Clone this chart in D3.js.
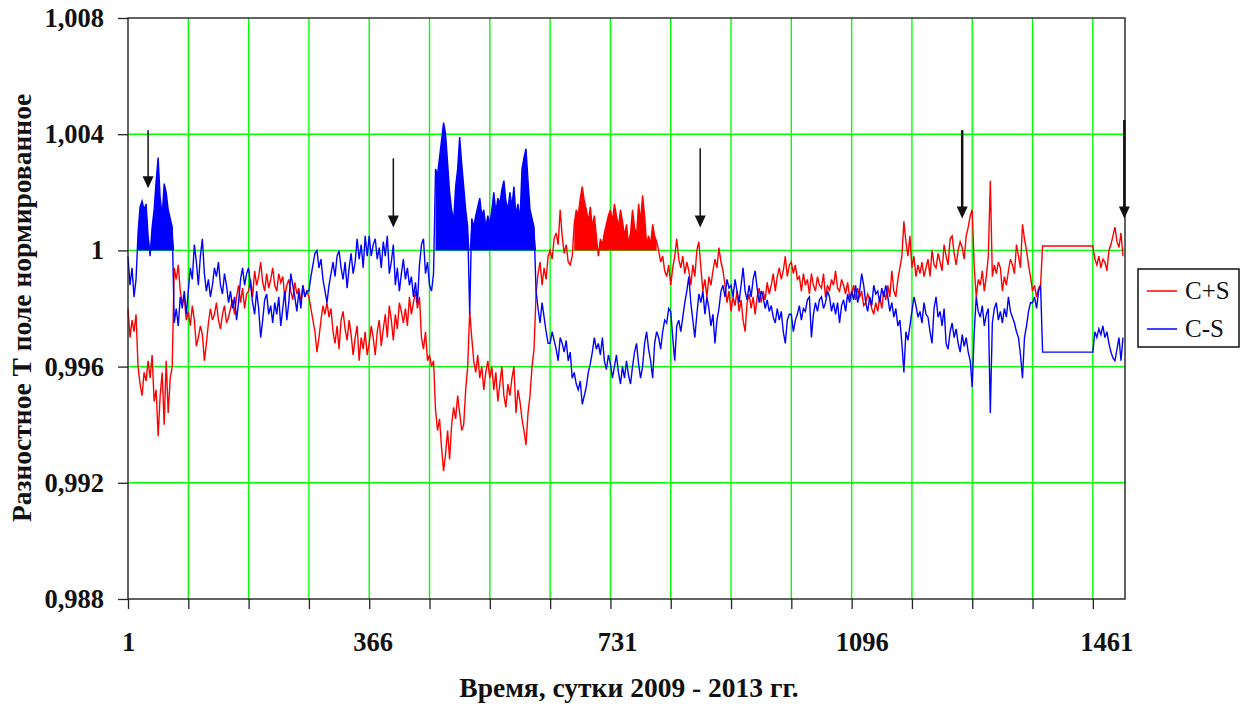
<!DOCTYPE html>
<html>
<head>
<meta charset="utf-8">
<script src="https://cdn.jsdelivr.net/npm/d3@7"></script>
<style>
  body { margin: 0; background: #fff; }
  svg { display: block; }
  svg text { font-family: "Liberation Serif", "Times New Roman", serif; }
</style>
</head>
<body>
<svg id="chart" width="1241" height="704"></svg>
<script>
// Отклонение от 1 в единицах 1e-4, отсчёты через 3 суток начиная с 1-х суток
const dayStep = 3;

// C+S, по кварталам (90 суток = 30 отсчётов)
const cPlusS = [
  -20, -30, -24, -28, -22, -40, -46, -50, -42, -45, -38, -44, -36, -52, -48, -64, -50, -42, -60, -38, -56, -44, -40, -6, -10, -5, -14, -18, -16, -24,
  -21, -26, -19, -24, -33, -30, -26, -29, -38, -32, -25, -20, -24, -22, -18, -24, -27, -22, -19, -25, -23, -20, -17, -22, -16, -12, -18, -13, -20, -15,
  -14, -10, -16, -7, -12, -9, -4, -11, -14, -8, -13, -10, -6, -12, -14, -8, -11, -9, -16, -12, -10, -14, -17, -11, -15, -13, -18, -12, -16, -14,
  -16, -20, -24, -28, -35, -30, -24, -19, -22, -18, -23, -20, -28, -32, -26, -34, -24, -21, -27, -31, -24, -29, -36, -30, -26, -38, -30, -34, -28, -36,
  -32, -26, -30, -36, -28, -24, -33, -27, -22, -30, -19, -24, -31, -22, -27, -18, -21, -25, -20, -26, -16, -22, -18, -14, -20, -16, -30, -34, -28, -38,
  -36, -40, -38, -55, -62, -58, -68, -76, -70, -62, -72, -60, -54, -58, -50, -56, -62, -60, -48, -40, -21, -30, -38, -42, -36, -44, -40, -48, -42, -38,
  -44, -40, -48, -42, -52, -46, -40, -50, -54, -46, -50, -44, -40, -56, -48, -52, -58, -62, -67, -56, -50, -40, -34, -15, -8, -4, -12, -6, -10, -2,
  0, -3, 4, 6, 2, 14, 5, -1, 2, -4, -5, -2, 9, 14, 12, 18, 22, 17, 14, 10, 15, 8, 12, 5, -2, 4, 2, 6, 9, 12,
  14, 10, 16, 12, 8, 14, 10, 5, 9, 2, 6, 14, 8, 5, 16, 10, 19, 12, 2, 5, 2, 9, 5, 3, 0, -4, -2, -7, -9, -5,
  -12, -6, -2, 4, -3, -6, -2, -8, -4, -7, -12, -5, -9, 0, 3, -6, -14, -10, -16, -9, -12, -7, -3, -6, 1, -4, -7, -12, -18, -14,
  -21, -16, -19, -14, -21, -17, -24, -28, -18, -15, -20, -16, -22, -16, -13, -18, -14, -17, -11, -15, -12, -8, -14, -9, -6, -10, -7, -2, -9, -5,
  -4, -8, -5, -10, -9, -14, -8, -12, -10, -15, -8, -12, -14, -9, -12, -13, -8, -16, -12, -14, -10, -12, -7, -13, -14, -10, -12, -15, -11, -16,
  -15, -12, -17, -13, -16, -14, -19, -18, -15, -17, -20, -22, -18, -21, -16, -20, -14, -17, -12, -16, -7, -14, -16, -10, -6, -2, 10, 3, -2, 5,
  -6, -2, -9, -5, -8, -4, -9, -6, -3, -9, 0, -5, -6, -1, -4, -7, 2, -2, -5, 4, 5, -1, -5, 0, 3, 1, -3, 5, 8, 12,
  14, -6, -16, -10, -12, -7, -14, -9, -2, 24, -9, -5, -8, -4, -6, -14, -9, -12, -7, -3, -5, -8, 2, -2, -6, 9, 4, 0, -5, -9,
  -14, -12, -16, -13, -12, 1.5, 1.5, 1.5, 1.5, 1.5, 1.5, 1.5, 1.5, 1.5, 1.5, 1.5, 1.5, 1.5, 1.5, 1.5, 1.5, 1.5, 1.5, 1.5, 1.5, 1.5, 1.5, 1.5, 1.5, 1.5,
  1.5, -3, -5, -2, -6, -3, -4, -7, 0, 2, 5, 8, 3, 1, 6, -2
];

// C-S
const cMinusS = [
  -2, -12, -6, -16, -10, 6, 15, 17, 14, 16, 5, -2, 8, 14, 24, 32, 18, 12, 23, 20, 14, 11, 8, -25, -20, -26, -16, -20, -14, -22,
  -14, -6, -10, 2, -4, -12, -2, 4, -8, -14, -10, -16, -12, -6, -9, -4, -12, -15, -8, -12, -18, -14, -20, -16, -24, -18, -10, -6, -12, -8,
  -6, -12, -18, -22, -14, -20, -30, -24, -17, -15, -22, -19, -25, -18, -22, -16, -26, -20, -14, -24, -18, -8, -12, -16, -21, -14, -20, -12, -16, -14,
  -14, -9, -5, -1, 0, -6, -3, -10, -14, -18, -12, -8, -4, -9, -2, 0, -6, -10, -4, -13, -6, -1, -8, -4, 4, -3, 2, -6, 5, -2,
  5, -2, 2, 4, -3, 1, -6, 3, -2, 5, -8, -4, 2, -12, -6, -14, -8, -3, -10, -6, -12, -9, -16, -11, -18, -5, 2, 4, -8, -4,
  -12, -14, -8, 28, 26, 32, 38, 44, 40, 30, 20, 14, 10, 22, 28, 39, 30, 22, 14, 8, -22, 11, 8, 12, 15, 18, 12, 14, 8, 12,
  9, 14, 20, 13, 18, 16, 21, 24, 17, 14, 20, 15, 22, 12, 16, 10, 28, 32, 35, 24, 14, 11, 8, -14, -20, -25, -18, -23, -28, -32,
  -32, -28, -31, -34, -38, -30, -32, -35, -31, -38, -35, -44, -42, -46, -48, -45, -53, -50, -47, -42, -39, -35, -30, -34, -32, -36, -30, -38, -41, -36,
  -39, -44, -40, -36, -42, -46, -40, -44, -38, -43, -46, -40, -35, -32, -39, -44, -40, -32, -28, -34, -38, -44, -32, -28, -30, -34, -28, -24, -25, -20,
  -21, -30, -38, -26, -24, -28, -23, -18, -14, -9, -18, -24, -30, -22, -15, -18, -14, -22, -16, -20, -26, -22, -32, -24, -20, -14, -12, -16, -10, -13,
  -12, -16, -10, -14, -18, -12, -6, -14, -17, -12, -16, -10, -7, -13, -18, -14, -16, -20, -17, -21, -19, -23, -25, -20, -24, -21, -28, -32, -24, -22,
  -22, -28, -24, -22, -19, -24, -20, -21, -17, -16, -30, -22, -18, -21, -17, -16, -20, -18, -14, -16, -21, -18, -22, -18, -25, -19, -17, -21, -15, -18,
  -14, -17, -12, -18, -14, -8, -12, -18, -21, -16, -19, -12, -15, -14, -18, -13, -16, -12, -16, -21, -18, -23, -20, -26, -24, -32, -42, -28, -31, -26,
  -21, -16, -19, -23, -21, -25, -18, -22, -23, -28, -32, -20, -16, -23, -21, -26, -20, -32, -34, -28, -25, -30, -27, -32, -35, -29, -33, -30, -35, -38,
  -47, -28, -16, -21, -23, -19, -26, -22, -20, -56, -25, -20, -18, -24, -21, -25, -20, -23, -16, -21, -23, -25, -28, -30, -36, -44, -30, -26, -21, -18,
  -18, -16, -20, -14, -12, -35, -35, -35, -35, -35, -35, -35, -35, -35, -35, -35, -35, -35, -35, -35, -35, -35, -35, -35, -35, -35, -35, -35, -35, -35,
  -35, -28, -30, -27, -29, -26, -30, -28, -32, -35, -37, -38, -34, -30, -38, -30
];

// залитые участки (сутки)
const blueFills = [[14, 70], [458, 610]];
const redFills = [[666, 790]];

const yTicks = [0.988, 0.992, 0.996, 1, 1.004, 1.008];
const yTickLabels = ['0,988', '0,992', '0,996', '1', '1,004', '1,008'];
const gridDays = [1, 91, 181, 271, 361, 451, 541, 631, 721, 811, 901, 991, 1081, 1171, 1261, 1351, 1441];
const xLabelDays = [1, 366, 731, 1096, 1461];

// стрелки: сутки, от значения, до значения
const arrows = [
  { day: 31, from: 1.00414, to: 1.00214, w: 1.5 },
  { day: 397, from: 1.00317, to: 1.00079, w: 1.5 },
  { day: 855, from: 1.00352, to: 1.00079, w: 1.5 },
  { day: 1246, from: 1.00414, to: 1.0011, w: 2.5 },
  { day: 1488, from: 1.00449, to: 1.0011, w: 2.5 }
];

const series = [
  { name: 'C+S', color: '#ff0000', dev: cPlusS, fills: redFills },
  { name: 'C-S', color: '#0000ff', dev: cMinusS, fills: blueFills }
];

const L = 128, R = 1125, T = 18, B = 599;
const x = d3.scaleLinear().domain([1, 1489]).range([L, R]);
const y = d3.scaleLinear().domain([0.988, 1.008]).range([B, T]);

const svg = d3.select('#chart');

// сетка
const grid = svg.append('g').attr('stroke', '#00ff00').attr('stroke-width', 1.4);
grid.selectAll('.hg').data(yTicks.filter(d => d > 0.988 && d < 1.008)).join('line')
  .attr('x1', L).attr('x2', R).attr('y1', d => y(d)).attr('y2', d => y(d));
grid.selectAll('.vg').data(gridDays.slice(1)).join('line')
  .attr('x1', d => x(d)).attr('x2', d => x(d)).attr('y1', T).attr('y2', B);

// данные
series.forEach(s => {
  const pts = s.dev.map((v, i) => ({ day: 1 + i * dayStep, v: 1 + v * 1e-4 }));
  s.fills.forEach(([a, b]) => {
    const seg = pts.filter(p => p.day >= a && p.day <= b);
    svg.append('path').datum(seg)
      .attr('fill', s.color)
      .attr('d', d3.area().x(p => x(p.day)).y0(y(1)).y1(p => y(Math.max(p.v, 1))));
  });
  svg.append('path').datum(pts)
    .attr('fill', 'none')
    .attr('stroke', s.color)
    .attr('stroke-width', 1.4)
    .attr('stroke-linejoin', 'miter')
    .attr('d', d3.line().x(p => x(p.day)).y(p => y(p.v)));
});

// оси
const yAxis = svg.append('g').attr('transform', `translate(${L},0)`)
  .call(d3.axisLeft(y).tickValues(yTicks).tickFormat((d, i) => yTickLabels[i]).tickSize(10).tickPadding(14));
const xTicks = svg.append('g').attr('transform', `translate(0,${B})`)
  .call(d3.axisBottom(x).tickValues(gridDays).tickFormat('').tickSize(10));
const xLabels = svg.append('g').attr('transform', `translate(0,${B})`)
  .call(d3.axisBottom(x).tickValues(xLabelDays).tickFormat(d3.format('d')).tickSize(0).tickPadding(33));
[yAxis, xTicks, xLabels].forEach(g => {
  g.select('.domain').remove();
  g.selectAll('line').attr('stroke', '#222').attr('stroke-width', 1.3);
  g.selectAll('text').attr('fill', '#111').attr('font-weight', 'bold').attr('font-size', 26.5);
});

svg.append('rect').attr('x', L).attr('y', T).attr('width', R - L).attr('height', B - T)
  .attr('fill', 'none').attr('stroke', '#222').attr('stroke-width', 1.4);

// стрелки
arrows.forEach(a => {
  const ax = x(a.day), y0 = y(a.from), y1 = y(a.to);
  svg.append('line').attr('x1', ax).attr('x2', ax).attr('y1', y0).attr('y2', y1 - 8)
    .attr('stroke', '#111').attr('stroke-width', a.w);
  svg.append('path').attr('fill', '#111')
    .attr('d', `M${ax - 5.5},${y1 - 12}L${ax + 5.5},${y1 - 12}L${ax},${y1}Z`);
});

// подписи осей
svg.append('text').attr('x', 629).attr('y', 697).attr('text-anchor', 'middle')
  .attr('font-weight', 'bold').attr('font-size', 27.5).attr('fill', '#111')
  .text('Время, сутки 2009 - 2013 гг.');
svg.append('text').attr('transform', 'translate(31,308) rotate(-90)').attr('text-anchor', 'middle')
  .attr('font-weight', 'bold').attr('font-size', 27.5).attr('fill', '#111')
  .text('Разностное Т поле нормированное');

// легенда
const lg = svg.append('g');
lg.append('rect').attr('x', 1138).attr('y', 269).attr('width', 101).attr('height', 78)
  .attr('fill', '#fff').attr('stroke', '#111').attr('stroke-width', 1.5);
series.forEach((s, i) => {
  const ly = 291 + i * 38;
  lg.append('line').attr('x1', 1147).attr('x2', 1177).attr('y1', ly).attr('y2', ly)
    .attr('stroke', s.color).attr('stroke-width', 1.5);
  lg.append('text').attr('x', 1185).attr('y', ly + 8).attr('font-size', 25).attr('fill', '#111')
    .text(s.name);
});
</script>
</body>
</html>
